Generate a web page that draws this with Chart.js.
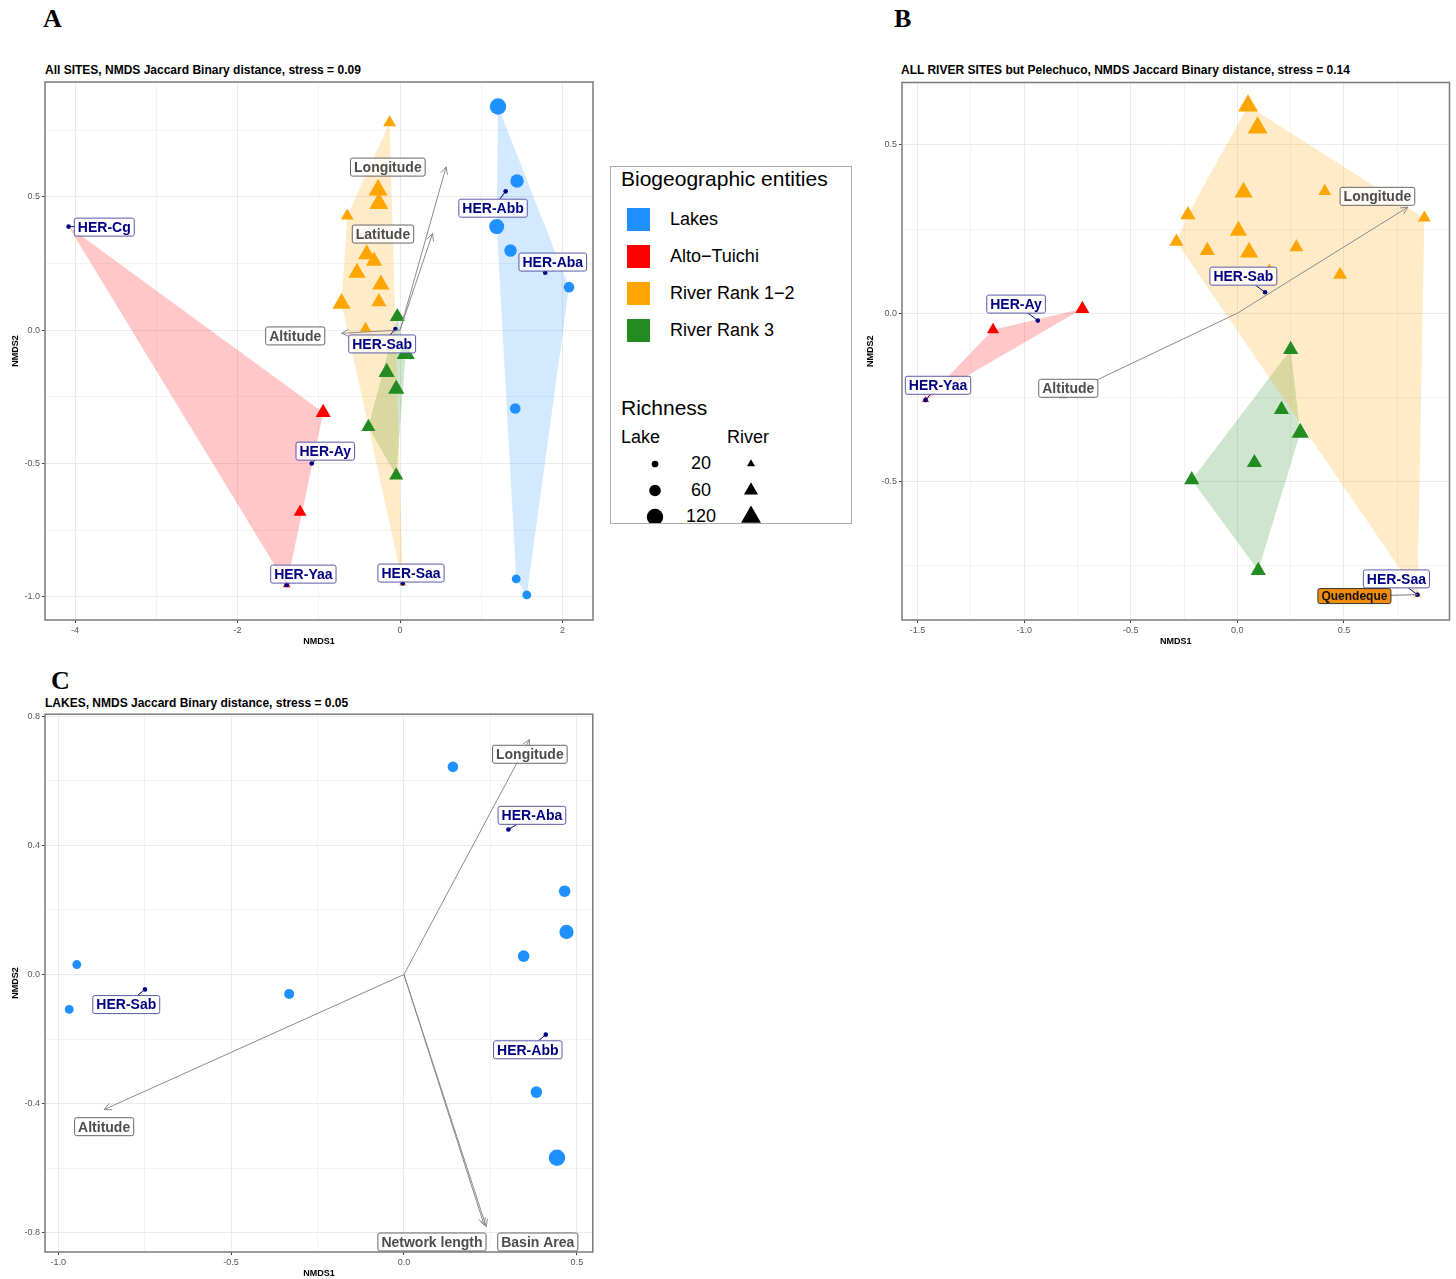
<!DOCTYPE html>
<html>
<head>
<meta charset="utf-8">
<script src="https://cdn.jsdelivr.net/npm/chart.js@4.4.1/dist/chart.umd.min.js"></script>
<style>
  body { margin: 0; width: 1456px; height: 1279px; position: relative; background: #fff; overflow: hidden;
         font-family: Arial, "Liberation Sans", sans-serif; }
  .letter { position: absolute; font: bold 26px "Liberation Serif", "Times New Roman", serif; line-height: 26px; }
  .title { position: absolute; font: bold 12px Arial, "Liberation Sans", sans-serif; line-height: 14px; white-space: nowrap; }
  .panel { position: absolute; }
  #legend { position: absolute; left: 610px; top: 166px; width: 240px; height: 356px; border: 1.5px solid #aaa; }
  #legend div { position: absolute; white-space: nowrap; }
  #legend .big { font-size: 21px; line-height: 26px; }
  #legend .key { width: 23px; height: 23px; }
  #legend .lab { font-size: 18px; line-height: 23px; }
  #legend svg { position: absolute; left: 0; top: 0; }
</style>
</head>
<body>
<div class="letter" style="left:43px;top:6px">A</div>
<div class="letter" style="left:894px;top:6px">B</div>
<div class="letter" style="left:51px;top:668px">C</div>

<div class="title" style="left:45px;top:63px">All SITES, NMDS Jaccard Binary distance, stress = 0.09</div>
<div class="title" style="left:901px;top:63px">ALL RIVER SITES but Pelechuco, NMDS Jaccard Binary distance, stress = 0.14</div>
<div class="title" style="left:45px;top:696px">LAKES, NMDS Jaccard Binary distance, stress = 0.05</div>

<div class="panel" style="left:0;top:71px;width:604px;height:579px"><canvas id="chartA"></canvas></div>
<div class="panel" style="left:858px;top:71px;width:603px;height:579px"><canvas id="chartB"></canvas></div>
<div class="panel" style="left:0;top:706px;width:601px;height:573px"><canvas id="chartC"></canvas></div>

<div id="legend"></div>

<script>
// ---- data: [NMDS1, NMDS2, richness] ----
// Panel A: all sites
const aLakes = [[1.206, 0.838, 120], [1.44, 0.559, 80], [1.19, 0.388, 100], [1.36, 0.298, 70],
  [2.08, 0.161, 50], [1.418, -0.294, 50], [1.43, -0.933, 35], [1.56, -0.993, 35]];
const aAlto = [[-0.946, -0.309, 70], [-1.23, -0.682, 50], [-1.395, -0.956, 18]];
const aRank12 = [[-0.128, 0.778, 50], [-0.27, 0.525, 110], [-0.26, 0.475, 110], [-0.65, 0.428, 50],
  [-0.41, 0.284, 90], [-0.32, 0.259, 80], [-0.53, 0.215, 90], [-0.236, 0.171, 90], [-0.72, 0.10, 100],
  [-0.26, 0.106, 70], [-0.425, 0.006, 40], [0.033, -0.95, 15]];
const aRank3 = [[-0.033, 0.05, 70], [0.07, -0.089, 100], [-0.165, -0.158, 80], [-0.047, -0.221, 80],
  [-0.39, -0.363, 60], [-0.047, -0.545, 60]];
// reference sites: [name, NMDS1, NMDS2, group]
const aSites = [["HER-Cg", -4.08, 0.388, "alto"], ["HER-Abb", 1.30, 0.52, "lake"], ["HER-Aba", 1.787, 0.215, "lake"],
  ["HER-Sab", -0.057, 0.004, "rank3"], ["HER-Ay", -1.087, -0.50, "alto"], ["HER-Yaa", -1.395, -0.956, "alto"],
  ["HER-Saa", 0.033, -0.95, "rank12"]];
const aSiteLabelPos = [[-3.64, 0.386], [1.145, 0.457], [1.88, 0.255], [-0.22, -0.052], [-0.92, -0.454],
  [-1.19, -0.915], [0.135, -0.911]];
// fitted environmental vectors: [name, NMDS1, NMDS2]
const aVectors = [["Longitude", 0.567, 0.612], ["Latitude", 0.40, 0.362], ["Altitude", -0.72, -0.012]];
const aVectorLabelPos = [[-0.15, 0.611], [-0.21, 0.36], [-1.29, -0.022]];
const aXTicks = ["-4", "-2", "0", "2"];
const aYTicks = ["-1.0", "-0.5", "0.0", "0.5"];

// Panel B: river sites
const bAlto = [[-0.727, 0.013, 60], [-1.146, -0.049, 45], [-1.4625, -0.258, 15]];
const bRank12 = [[0.05, 0.616, 120], [0.095, 0.551, 120], [0.029, 0.359, 100], [0.41, 0.362, 50],
  [-0.232, 0.292, 70], [0.877, 0.283, 50], [0.005, 0.245, 90], [-0.286, 0.2125, 60], [-0.141, 0.186, 70],
  [0.055, 0.181, 100], [0.277, 0.196, 60], [0.482, 0.114, 60], [0.15, 0.14, 6], [0.845, -0.836, 15]];
const bRank3 = [[0.25, -0.108, 70], [0.207, -0.286, 70], [0.295, -0.355, 90], [0.08, -0.444, 70],
  [-0.214, -0.495, 70], [0.098, -0.764, 70]];
const bSites = [["HER-Ay", -0.936, -0.022, "alto"], ["HER-Sab", 0.13, 0.062, "rank12"],
  ["HER-Yaa", -1.4625, -0.258, "alto"], ["HER-Saa", 0.845, -0.836, "rank12"]];
const bSiteLabelPos = [[-1.038, 0.027], [0.028, 0.11], [-1.404, -0.214], [0.746, -0.789]];
const bVectors = [["Longitude", 0.80, 0.315], ["Altitude", -0.834, -0.251]];
const bVectorLabelPos = [[0.657, 0.347], [-0.793, -0.223]];
const bExtraLabels = [["Quendeque", 0.845, -0.836, 0.549, -0.84]];
const bXTicks = ["-1.5", "-1.0", "-0.5", "0.0", "0.5"];
const bYTicks = ["-0.5", "0.0", "0.5"];

// Panel C: lakes
const cLakes = [[0.1416, 0.643, 50], [0.4646, 0.258, 60], [0.47, 0.132, 90], [0.346, 0.057, 60],
  [-0.946, 0.031, 35], [-0.968, -0.108, 35], [-0.332, -0.060, 45], [0.383, -0.364, 60], [0.4425, -0.567, 120]];
const cSites = [["HER-Aba", 0.302, 0.449, "lake"], ["HER-Sab", -0.749, -0.046, "lake"], ["HER-Abb", 0.41, -0.186, "lake"]];
const cSiteLabelPos = [[0.37, 0.493], [-0.803, -0.093], [0.358, -0.233]];
const cVectors = [["Longitude", 0.363, 0.728], ["Altitude", -0.867, -0.418],
  ["Network length", 0.232, -0.776], ["Basin Area", 0.238, -0.781]];
const cVectorLabelPos = [[0.364, 0.682], [-0.867, -0.471], [0.081, -0.828], [0.387, -0.828]];
const cXTicks = ["-1.0", "-0.5", "0.0", "0.5"];
const cYTicks = ["-0.8", "-0.4", "0.0", "0.4", "0.8"];

const entities = [["lake", "Lakes"], ["alto", "Alto\u2212Tuichi"], ["rank12", "River Rank 1\u22122"], ["rank3", "River Rank 3"]];
const richnessLegend = [20, 60, 120];

// ---- styles ----
const COLORS = { lake: "#1E90FF", alto: "#FF0000", rank12: "#FFA500", rank3: "#228B22" };
const HULLS = { lake: "rgba(30,144,255,0.2)", alto: "rgba(255,0,0,0.22)", rank12: "rgba(255,165,0,0.22)", rank3: "rgba(34,139,34,0.22)" };
const NAVY = "#000080";
const SITE_TAG = { font: "bold 14px Arial, 'Liberation Sans'", h: 18, fill: "rgba(255,255,255,0.8)", stroke: "#5a5aa8", text: NAVY, seg: NAVY };
const VEC_TAG = { font: "bold 14px Arial, 'Liberation Sans'", h: 18, fill: "rgba(255,255,255,0.8)", stroke: "#666", text: "#4d4d4d", seg: null };
const QUEN_TAG = { font: "bold 12px Arial, 'Liberation Sans'", h: 15, fill: "#F28C0F", stroke: "#333", text: "#111", seg: "#777" };

Chart.defaults.font.family = "Arial, 'Liberation Sans', sans-serif";

const radiusFor = (style, rich) => style === "circle" ? 0.75 * Math.sqrt(rich) : 1.05 * Math.sqrt(rich);

function convexHull(pts) {
  const p = pts.slice().sort((a, b) => a.x - b.x || a.y - b.y);
  const cross = (o, a, b) => (a.x - o.x) * (b.y - o.y) - (a.y - o.y) * (b.x - o.x);
  const lower = [], upper = [];
  for (const q of p) {
    while (lower.length >= 2 && cross(lower[lower.length - 2], lower[lower.length - 1], q) <= 0) lower.pop();
    lower.push(q);
  }
  for (let i = p.length - 1; i >= 0; i--) {
    const q = p[i];
    while (upper.length >= 2 && cross(upper[upper.length - 2], upper[upper.length - 1], q) <= 0) upper.pop();
    upper.push(q);
  }
  lower.pop(); upper.pop();
  return lower.concat(upper);
}

function tickValues(labels, min, max) {
  const v = labels.map(Number);
  const step = (v[1] - v[0]) / 2;
  const out = [];
  for (let t = v[0] - 2 * step; t <= v[v.length - 1] + 2 * step + 1e-9; t += step) {
    if (t >= min - 1e-9 && t <= max + 1e-9) out.push(+t.toFixed(6));
  }
  return out;
}

function arrow(ctx, x0, y0, x1, y1) {
  const a = Math.atan2(y1 - y0, x1 - x0), len = 8, s = 0.45;
  ctx.strokeStyle = "#8a8a8a";
  ctx.lineWidth = 1;
  ctx.beginPath();
  ctx.moveTo(x0, y0); ctx.lineTo(x1, y1);
  ctx.moveTo(x1 - len * Math.cos(a - s), y1 - len * Math.sin(a - s));
  ctx.lineTo(x1, y1);
  ctx.lineTo(x1 - len * Math.cos(a + s), y1 - len * Math.sin(a + s));
  ctx.stroke();
}

function tag(ctx, text, lx, ly, tx, ty, st) {
  ctx.font = st.font;
  const w = ctx.measureText(text).width + 7, h = st.h;
  if (st.seg) {
    const dx = tx - lx, dy = ty - ly;
    const t = Math.min(dx ? (w / 2) / Math.abs(dx) : Infinity, dy ? (h / 2) / Math.abs(dy) : Infinity);
    if (t < 1) {
      ctx.strokeStyle = st.seg; ctx.lineWidth = 1;
      ctx.beginPath(); ctx.moveTo(lx + dx * t, ly + dy * t); ctx.lineTo(tx, ty); ctx.stroke();
    }
  }
  const x = lx - w / 2, y = ly - h / 2, r = 2;
  ctx.beginPath();
  ctx.roundRect(x, y, w, h, r);
  ctx.fillStyle = st.fill; ctx.fill();
  ctx.strokeStyle = st.stroke; ctx.lineWidth = 1; ctx.stroke();
  ctx.fillStyle = st.text;
  ctx.textAlign = "center"; ctx.textBaseline = "middle";
  ctx.fillText(text, lx, ly + 1);
}

const overlay = {
  id: "overlay",
  afterDatasetsDraw(chart, args, o) {
    const { ctx, scales: { x, y } } = chart;
    const px = v => x.getPixelForValue(v), py = v => y.getPixelForValue(v);
    ctx.save();
    o.vectors.forEach(([, vx, vy]) => arrow(ctx, px(0), py(0), px(vx), py(vy)));
    o.vectors.forEach(([name, vx, vy], i) => tag(ctx, name, px(o.vectorPos[i][0]), py(o.vectorPos[i][1]), px(vx), py(vy), VEC_TAG));
    o.sites.forEach(([name, sx, sy], i) => tag(ctx, name, px(o.sitePos[i][0]), py(o.sitePos[i][1]), px(sx), py(sy), SITE_TAG));
    (o.extra || []).forEach(([name, sx, sy, lx, ly]) => tag(ctx, name, px(lx), py(ly), px(sx), py(sy), QUEN_TAG));
    ctx.restore();
  }
};

const frame = {
  id: "frame",
  afterDraw(chart) {
    const { ctx, chartArea: a } = chart;
    ctx.save();
    ctx.strokeStyle = "#7a7a7a"; ctx.lineWidth = 1.5;
    ctx.strokeRect(a.left, a.top, a.width, a.height);
    ctx.restore();
  }
};

function axis(labels, range, title, isX, cfg) {
  const majors = new Map(labels.map(l => [+Number(l).toFixed(6), l]));
  const isMajor = c => c.tick && majors.has(+c.tick.value.toFixed(6));
  return {
    type: "linear", min: range[0], max: range[1],
    afterBuildTicks: ax => { ax.ticks = tickValues(labels, range[0], range[1]).map(v => ({ value: v })); },
    afterFit: ax => {
      if (isX) ax.height = cfg.xAxisHeight; else ax.width = cfg.yAxisWidth;
      ax.paddingTop = 0; ax.paddingBottom = 0; ax.paddingLeft = 0; ax.paddingRight = 0;
    },
    ticks: { autoSkip: false, maxRotation: 0, padding: 2, color: "#555", font: { size: 9 },
      callback: v => majors.get(+Number(v).toFixed(6)) || "" },
    grid: { color: "#ebebeb", lineWidth: c => isMajor(c) ? 1 : 0.6, tickLength: 3,
      tickColor: c => isMajor(c) ? "#444" : "rgba(0,0,0,0)" },
    border: { display: false },
    title: { display: true, text: title, color: "#000", font: { size: 9, weight: "bold" },
      padding: isX ? { top: 0, bottom: cfg.xTitlePad } : { top: cfg.yTitlePad, bottom: 0 } },
  };
}

function makePanel(id, cfg) {
  const datasets = [];
  cfg.groups.forEach(g => {
    datasets.push({
      data: g.pts.map(([x, y, r]) => ({ x, y, rich: r })),
      pointStyle: g.style, backgroundColor: COLORS[g.key], borderWidth: 0,
      pointRadius: c => radiusFor(g.style, c.raw.rich), pointHoverRadius: c => radiusFor(g.style, c.raw.rich),
      order: 2,
    });
    if (cfg.hull) {
      const pts = g.pts.map(([x, y]) => ({ x, y }))
        .concat(cfg.sites.filter(s => s[3] === g.key).map(s => ({ x: s[1], y: s[2] })));
      const h = convexHull(pts);
      h.push(h[0]);
      datasets.push({ data: h, showLine: true, fill: "shape", backgroundColor: HULLS[g.key],
        borderColor: "rgba(0,0,0,0)", borderWidth: 0, pointRadius: 0, tension: 0, order: 5 });
    }
  });
  datasets.push({ data: cfg.sites.map(s => ({ x: s[1], y: s[2] })), pointStyle: "circle",
    backgroundColor: NAVY, borderWidth: 0, pointRadius: 2.3, order: 1 });

  new Chart(document.getElementById(id), {
    type: "scatter",
    data: { datasets },
    options: {
      responsive: true, maintainAspectRatio: false, animation: false,
      layout: { padding: cfg.padding },
      plugins: { legend: { display: false }, tooltip: { enabled: false },
        overlay: { vectors: cfg.vectors, vectorPos: cfg.vectorPos, sites: cfg.sites, sitePos: cfg.sitePos, extra: cfg.extra } },
      scales: { x: axis(cfg.xTicks, cfg.xRange, "NMDS1", true, cfg), y: axis(cfg.yTicks, cfg.yRange, "NMDS2", false, cfg) },
    },
    plugins: [overlay, frame],
  });
}

makePanel("chartA", {
  groups: [{ pts: aLakes, key: "lake", style: "circle" }, { pts: aAlto, key: "alto", style: "triangle" },
    { pts: aRank12, key: "rank12", style: "triangle" }, { pts: aRank3, key: "rank3", style: "triangle" }],
  hull: true, sites: aSites, sitePos: aSiteLabelPos, vectors: aVectors, vectorPos: aVectorLabelPos,
  xTicks: aXTicks, yTicks: aYTicks, xRange: [-4.37, 2.375], yRange: [-1.087, 0.93],
  padding: { top: 4, right: 3, left: 0, bottom: 0 }, yAxisWidth: 45, xAxisHeight: 30, yTitlePad: 10, xTitlePad: 3,
});

makePanel("chartB", {
  groups: [{ pts: bAlto, key: "alto", style: "triangle" }, { pts: bRank12, key: "rank12", style: "triangle" },
    { pts: bRank3, key: "rank3", style: "triangle" }],
  hull: true, sites: bSites, sitePos: bSiteLabelPos, vectors: bVectors, vectorPos: bVectorLabelPos, extra: bExtraLabels,
  xTicks: bXTicks, yTicks: bYTicks, xRange: [-1.573, 0.995], yRange: [-0.911, 0.685],
  padding: { top: 4, right: 2, left: 0, bottom: 0 }, yAxisWidth: 44, xAxisHeight: 30, yTitlePad: 7, xTitlePad: 3,
});

makePanel("chartC", {
  groups: [{ pts: cLakes, key: "lake", style: "circle" }],
  hull: false, sites: cSites, sitePos: cSiteLabelPos, vectors: cVectors, vectorPos: cVectorLabelPos,
  xTicks: cXTicks, yTicks: cYTicks, xRange: [-1.038, 0.546], yRange: [-0.859, 0.806],
  padding: { top: 4, right: 6, left: 0, bottom: 0 }, yAxisWidth: 45, xAxisHeight: 27, yTitlePad: 10, xTitlePad: 0,
});

// ---- legend ----
function renderLegend() {
  const box = document.getElementById("legend");
  let html = `<div class="big" style="left:10px;top:-1px">Biogeographic entities</div>`;
  entities.forEach(([key, label], i) => {
    const top = 41 + i * 37;
    html += `<div class="key" style="left:16px;top:${top}px;background:${COLORS[key]}"></div>`;
    html += `<div class="lab" style="left:59px;top:${top}px">${label}</div>`;
  });
  html += `<div class="big" style="left:10px;top:228px">Richness</div>`;
  html += `<div class="lab" style="left:10px;top:259px">Lake</div>`;
  html += `<div class="lab" style="left:116px;top:259px">River</div>`;
  let svg = `<svg width="240" height="356">`;
  richnessLegend.forEach((v, i) => {
    const cy = 297 + i * 26.5;
    html += `<div class="lab" style="left:72px;width:36px;text-align:center;top:${cy - 12}px">${v}</div>`;
    svg += `<circle cx="44" cy="${cy}" r="${radiusFor("circle", v)}" fill="#000"/>`;
    const r = radiusFor("triangle", v);
    const p = [0, 1, 2].map(k => {
      const a = k * 2 * Math.PI / 3;
      return `${(140 + Math.sin(a) * r).toFixed(2)},${(cy - Math.cos(a) * r).toFixed(2)}`;
    }).join(" ");
    svg += `<polygon points="${p}" fill="#000"/>`;
  });
  svg += `</svg>`;
  box.innerHTML = svg + html;
}
renderLegend();
</script>
</body>
</html>
